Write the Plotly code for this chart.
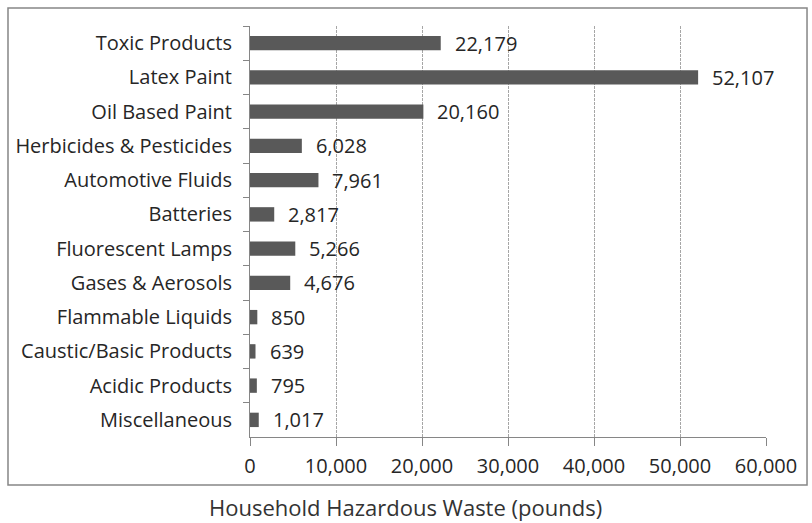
import plotly.graph_objects as go

categories = ["Toxic Products", "Latex Paint", "Oil Based Paint", "Herbicides & Pesticides",
              "Automotive Fluids", "Batteries", "Fluorescent Lamps", "Gases & Aerosols",
              "Flammable Liquids", "Caustic/Basic Products", "Acidic Products", "Miscellaneous"]
values = [22179, 52107, 20160, 6028, 7961, 2817, 5266, 4676, 850, 639, 795, 1017]
x_ticks = [0, 10000, 20000, 30000, 40000, 50000, 60000]
x_title = "Household Hazardous Waste (pounds)"

FONT = "Open Sans"
TXT = "#262626"

fig = go.Figure(go.Bar(
    y=categories, x=values, orientation="h",
    marker=dict(color="#595959", line=dict(width=0)),
    width=0.42,
    hoverinfo="x+y",
))

for c, v in zip(categories, values):
    fig.add_annotation(x=v, y=c, xref="x", yref="y", text=f"{v:,}",
                       showarrow=False, xanchor="left", xshift=12,
                       font=dict(family=FONT, size=20, color=TXT))

fig.add_annotation(x=0.302, y=-0.17, xref="paper", yref="paper", text=x_title,
                   showarrow=False, xanchor="center", yanchor="middle",
                   font=dict(family=FONT, size=22, color="#333333"))

fig.add_shape(type="rect", xref="paper", yref="paper",
              x0=-0.469, x1=1.0795, y0=-0.1168, y1=1.0438,
              line=dict(color="#868686", width=1.5), fillcolor="rgba(0,0,0,0)", layer="below")

fig.update_layout(
    width=812, height=523,
    margin=dict(l=250, r=46, t=26, b=86),
    paper_bgcolor="white", plot_bgcolor="white",
    showlegend=False,
    font=dict(family=FONT, size=20, color=TXT),
    xaxis=dict(range=[0, 60000], tickvals=x_ticks, tickformat=",d",
               showgrid=True, gridcolor="#a6a6a6", griddash="3px,1px", gridwidth=1,
               showline=True, linecolor="#868686", linewidth=1,
               ticks="outside", ticklen=8, tickcolor="#868686",
               ticklabelstandoff=3, zeroline=False, automargin=False),
    yaxis=dict(categoryorder="array", categoryarray=categories, autorange="reversed",
               showline=True, linecolor="#868686", linewidth=1,
               ticks="outside", ticklen=6, tickcolor="#868686", tickson="boundaries",
               ticklabelstandoff=13, showgrid=False, automargin=False),
)

fig.write_html("out.html", config={"displayModeBar": False},
               post_script="document.body.style.margin='0';document.body.style.overflow='hidden';")
